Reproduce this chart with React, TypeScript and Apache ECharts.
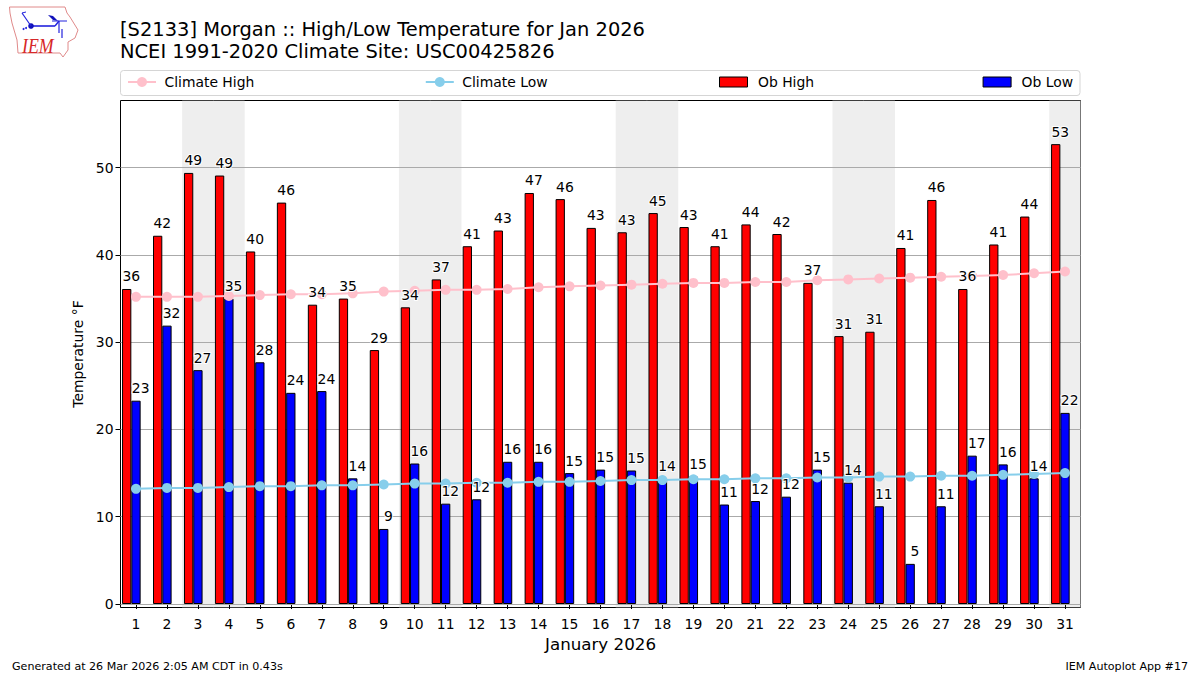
import React, { useEffect, useRef } from "react";
import * as echarts from "echarts";

const days = ["1","2","3","4","5","6","7","8","9","10","11","12","13","14","15","16","17","18","19","20","21","22","23","24","25","26","27","28","29","30","31"];
const obHigh = [36.1,42.2,49.4,49.1,40.4,46.0,34.3,35.0,29.1,34.0,37.2,41.0,42.8,47.1,46.4,43.1,42.6,44.8,43.2,41.0,43.5,42.4,36.8,30.7,31.2,40.8,46.3,36.1,41.2,44.4,52.7];
const obLow = [23.3,31.9,26.8,35.0,27.7,24.2,24.4,14.4,8.6,16.1,11.5,12.0,16.3,16.3,15.0,15.4,15.3,14.4,14.6,11.4,11.8,12.3,15.4,13.9,11.2,4.6,11.2,17.0,16.0,14.4,21.9];
const climateHigh = [35.2,35.2,35.2,35.3,35.4,35.5,35.5,35.6,35.8,35.9,36.0,36.0,36.1,36.3,36.4,36.5,36.6,36.7,36.8,36.8,36.9,36.9,37.1,37.2,37.3,37.4,37.5,37.6,37.7,37.9,38.1];
const climateLow = [13.2,13.3,13.3,13.4,13.5,13.5,13.6,13.6,13.7,13.8,13.8,13.9,13.9,14.0,14.0,14.1,14.2,14.2,14.3,14.3,14.4,14.4,14.5,14.5,14.6,14.6,14.7,14.7,14.8,14.9,15.0];
const weekendDays = ["3","4","10","11","17","18","24","25","31"];
const yTicks = [0,10,20,30,40,50];
const titleLines = "[S2133] Morgan :: High/Low Temperature for Jan 2026\nNCEI 1991-2020 Climate Site: USC00425826";
const footerLeft = "Generated at 26 Mar 2026 2:05 AM CDT in 0.43s";
const footerRight = "IEM Autoplot App #17";
const iowaOutline = [[9.5,7],[65,7],[67,13],[70,17],[78,30],[75,38],[68,42],[68,50],[63,57],[60,53],[18,53],[17,40],[12,23],[10,13]];
const FONT = "DejaVu Sans";

const labelSeries = (name: string, values: number[], dx: number) => ({
  type: "scatter", name, data: values, z: 6, silent: true,
  symbol: "circle", symbolSize: 1, itemStyle: { color: "transparent", opacity: 1 },
  label: {
    show: true, position: "top", distance: 5, offset: [dx, 0], opacity: 1,
    formatter: (p: any) => String(Math.round(p.value)),
    fontFamily: FONT, fontSize: 13.9, color: "#000",
    textBorderColor: "#fff", textBorderWidth: 2,
  },
});

export default function App() {
  const ref = useRef<HTMLDivElement>(null);
  useEffect(() => {
    const chart = echarts.init(ref.current!, undefined, { renderer: "svg" });
    const legendBase = { itemWidth: 28, padding: 0 };
    const legendText = { fontFamily: FONT, fontSize: 13.9, color: "#000" };
    chart.setOption({
      animation: false,
      backgroundColor: "#fff",
      textStyle: { fontFamily: FONT },
      title: {
        text: titleLines, left: 120, top: 18, padding: 0,
        textStyle: { fontFamily: FONT, fontSize: 19.45, fontWeight: "normal", color: "#000", lineHeight: 22.5 },
      },
      legend: [
        { ...legendBase, left: 127, top: 75, itemGap: 170.5, itemHeight: 12.5, textStyle: { ...legendText, padding: [0, 0, 0, 3.5] }, data: ["Climate High", "Climate Low"] },
        { ...legendBase, left: 719, top: 75, itemGap: 168.5, itemHeight: 10, icon: "rect", itemStyle: { borderWidth: 1, borderColor: "#000" }, textStyle: { ...legendText, padding: [0, 0, 0, 5.5] }, data: ["Ob High", "Ob Low"] },
      ],
      grid: { left: 120.5, right: 119.5, top: 100.5, bottom: 67.5, show: true, borderColor: "#000", borderWidth: 1, backgroundColor: "transparent" },
      xAxis: {
        type: "category", data: days,
        axisLine: { show: false },
        axisTick: { show: true, alignWithLabel: true, length: 5, lineStyle: { color: "#000" } },
        axisLabel: { fontFamily: FONT, fontSize: 13.9, color: "#000", margin: 9, interval: 0 },
        name: "January 2026", nameLocation: "middle", nameGap: 27,
        nameTextStyle: { fontFamily: FONT, fontSize: 16.7, color: "#000" },
        splitLine: { show: false },
      },
      yAxis: {
        type: "value", min: -0.4, max: 57.7,
        axisLine: { show: false },
        axisTick: { show: true, length: 5, lineStyle: { color: "#000" }, customValues: yTicks },
        axisLabel: { fontFamily: FONT, fontSize: 13.9, color: "#000", margin: 7, customValues: yTicks },
        name: "Temperature °F", nameLocation: "middle", nameGap: 32,
        nameTextStyle: { fontFamily: FONT, fontSize: 13.9, color: "#000" },
        splitLine: { show: false },
      },
      series: [
        {
          type: "custom", name: "weekend", silent: true, z: 0, clip: true,
          data: weekendDays.map((d) => [d]),
          encode: { x: 0 },
          renderItem: (params: any, api: any) => {
            const c = api.coord([api.value(0), 0]);
            const w = api.size([1, 0])[0];
            const g = params.coordSys;
            const x0 = c[0] - w / 2 - 0.3;
            const x1 = Math.min(c[0] + w / 2 + 0.3, g.x + g.width);
            return { type: "rect", shape: { x: x0, y: g.y, width: x1 - x0, height: g.height }, style: { fill: "#eeeeee" } };
          },
        },
        {
          type: "line", name: "Climate High", data: climateHigh, z: 4,
          symbol: "circle", symbolSize: 10, showSymbol: true,
          lineStyle: { color: "#ffc0cb", width: 2 }, itemStyle: { color: "#ffc0cb" },
        },
        {
          type: "line", name: "Climate Low", data: climateLow, z: 4,
          symbol: "circle", symbolSize: 10, showSymbol: true,
          lineStyle: { color: "#87ceeb", width: 2 }, itemStyle: { color: "#87ceeb" },
        },
        {
          type: "bar", name: "Ob High", data: obHigh, z: 3, barWidth: 9.3, barGap: 0,
          itemStyle: { color: "#ff0000", borderColor: "#000", borderWidth: 1 },
          markLine: {
            silent: true, symbol: "none", label: { show: false }, z: 1,
            lineStyle: { color: "#aaaaaa", width: 1, type: "solid" },
            data: yTicks.map((v) => ({ yAxis: v })),
          },
        },
        {
          type: "bar", name: "Ob Low", data: obLow, z: 3, barWidth: 9.3, barGap: 0,
          itemStyle: { color: "#0000ff", borderColor: "#000", borderWidth: 1 },
        },
        // Empty third slot: keeps Ob Low centred on the day tick, as in the reference.
        { type: "bar", name: "slot", data: [], z: 3, barWidth: 9.3, barGap: 0 },
        labelSeries("Ob High labels", obHigh, -4.65),
        labelSeries("Ob Low labels", obLow, 4.65),
      ],
      graphic: [
        { type: "rect", z: -1, shape: { x: 120.5, y: 70.5, width: 959.5, height: 25, r: 3 }, style: { fill: "#fff", stroke: "#d5d5d5", lineWidth: 1 } },
        { type: "text", left: 12, top: 661, style: { text: footerLeft, fontFamily: FONT, fontSize: 11.1, fill: "#000" } },
        { type: "text", right: 12, top: 661, style: { text: footerRight, fontFamily: FONT, fontSize: 11.1, fill: "#000" } },
        { type: "polygon", shape: { points: iowaOutline }, style: { fill: "#fff", stroke: "#e08a8a", lineWidth: 1 } },
        { type: "text", x: 22, y: 35, scaleX: 0.85, style: { text: "IEM", fontFamily: "Liberation Serif", fontStyle: "italic", fontSize: 21, fill: "#d62828" } },
        { type: "line", shape: { x1: 31, y1: 26, x2: 55, y2: 26 }, style: { stroke: "#2222dd", lineWidth: 1.6 } },
        { type: "line", shape: { x1: 55, y1: 26, x2: 59, y2: 21 }, style: { stroke: "#2222dd", lineWidth: 1.4 } },
        { type: "circle", shape: { cx: 31, cy: 26, r: 2.8 }, style: { fill: "#1111bb" } },
        { type: "line", shape: { x1: 31, y1: 26, x2: 22, y2: 13 }, style: { stroke: "#2222dd", lineWidth: 1.2 } },
        { type: "line", shape: { x1: 22, y1: 13, x2: 26, y2: 12 }, style: { stroke: "#2222dd", lineWidth: 1 } },
        { type: "polygon", shape: { points: [[48,15],[53,16],[58,21],[53,20]] }, style: { fill: "#1111bb" } },
        { type: "line", shape: { x1: 52, y1: 21, x2: 67, y2: 21 }, style: { stroke: "#2222dd", lineWidth: 1 } },
        { type: "line", shape: { x1: 59, y1: 21, x2: 59, y2: 33 }, style: { stroke: "#2222dd", lineWidth: 1.2 } },
        { type: "line", shape: { x1: 62, y1: 29, x2: 62, y2: 38 }, style: { stroke: "#2222dd", lineWidth: 1.2 } },
        { type: "circle", shape: { cx: 26, cy: 28, r: 1 }, style: { fill: "#2222dd" } },
        { type: "circle", shape: { cx: 23.5, cy: 29, r: 1 }, style: { fill: "#2222dd" } },
      ],
    });
    return () => chart.dispose();
  }, []);
  return <div ref={ref} style={{ position: "fixed", left: 0, top: 0, width: 1200, height: 675 }} />;
}
